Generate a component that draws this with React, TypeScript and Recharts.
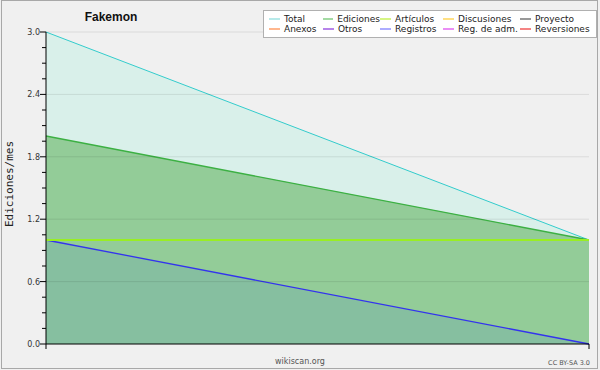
import { Area, AreaChart, ReferenceLine, XAxis, YAxis } from "recharts";

const months = ["2023-01", "2023-02"];
const total = [3, 1];
const ediciones = [2, 1];
const articulos = [1, 1];
const registros = [1, 0];

const yTicks = [0, 0.15, 0.3, 0.45, 0.6, 0.75, 0.9, 1.05, 1.2, 1.35, 1.5, 1.65, 1.8, 1.95, 2.1, 2.25, 2.4, 2.55, 2.7, 2.85, 3.0];
const yLabels = [0, 0.6, 1.2, 1.8, 2.4, 3.0];

const legendItems = [
  { name: "Total", color: "#88dddd" },
  { name: "Ediciones", color: "#66c266" },
  { name: "Artículos", color: "#bbee33" },
  { name: "Discusiones", color: "#ffcc33" },
  { name: "Proyecto", color: "#555555" },
  { name: "Anexos", color: "#ff8844" },
  { name: "Otros", color: "#8833dd" },
  { name: "Registros", color: "#7777ff" },
  { name: "Reg. de adm.", color: "#dd44ee" },
  { name: "Reversiones", color: "#ee3333" }
];
const legendCols = [54, 57, 63, 77, 73];

const rows = months.map((month, i) => ({
  month,
  total: total[i],
  ediciones: ediciones[i],
  articulos: articulos[i],
  registros: registros[i]
}));

function YTick({ x, y, payload }: any) {
  const v = payload.value;
  const major = yLabels.some((l) => Math.abs(l - v) < 1e-6);
  return (
    <g>
      <line x1={x - (major ? 6 : 4)} x2={x} y1={y} y2={y} stroke="#000" />
      {major && (
        <text x={x - 6} y={y + 3} textAnchor="end" fontSize={8} fill="#333" fontFamily="DejaVu Sans">
          {v.toFixed(1)}
        </text>
      )}
    </g>
  );
}

export default function App() {
  return (
    <div style={{ position: "absolute", left: 0, top: 0, width: 600, height: 370, background: "#f0f0f0" }}>
      <AreaChart width={600} height={370} data={rows} margin={{ top: 32, right: 11, bottom: 21, left: 0 }}>
        <XAxis dataKey="month" height={5} tick={() => <g />} tickSize={5} tickLine={{ stroke: "#000" }} axisLine={{ stroke: "#000" }} />
        <YAxis width={46} domain={[0, 3]} ticks={yTicks} interval={0} tick={<YTick />} tickLine={false} tickSize={0} tickMargin={0} axisLine={{ stroke: "#000" }} />
        <Area dataKey="total" stroke="#33cccc" strokeWidth={1} fill="#d9f0ea" fillOpacity={1} isAnimationActive={false} />
        <Area dataKey="ediciones" stroke="#3cb043" strokeWidth={1.3} fill="#93cc98" fillOpacity={1} isAnimationActive={false} />
        <Area dataKey="registros" stroke="#3333ee" strokeWidth={1.3} fill="#86bfa0" fillOpacity={1} isAnimationActive={false} />
        <Area dataKey="articulos" stroke="#99ee22" strokeWidth={1.8} fill="none" isAnimationActive={false} />
        {yLabels.slice(1).map((v) => (
          <ReferenceLine key={v} y={v} stroke="#000" strokeOpacity={0.09} />
        ))}
      </AreaChart>
      <svg width={600} height={370} style={{ position: "absolute", left: 0, top: 0, pointerEvents: "none" }}>
        <rect x={1.5} y={0.5} width={596} height={368} fill="none" stroke="#a8a8a8" />
        <text x={111} y={21} textAnchor="middle" fontSize={12} fontWeight="bold" fontFamily="Liberation Sans" fill="#111">
          Fakemon
        </text>
        <text transform="translate(13,184) rotate(-90)" textAnchor="middle" fontSize={11} fontFamily="DejaVu Sans Mono" fill="#222">
          Ediciones/mes
        </text>
        <text x={300} y={364} textAnchor="middle" fontSize={8} fontFamily="DejaVu Sans" fill="#555">
          wikiscan.org
        </text>
        <text x={590} y={365} textAnchor="end" fontSize={6.5} fontFamily="DejaVu Sans" fill="#555">
          CC BY-SA 3.0
        </text>
      </svg>
      <div
        style={{
          position: "absolute",
          left: 263,
          top: 10,
          width: 327,
          height: 26,
          padding: "0 0 0 5px",
          background: "#fff",
          border: "1px solid #b0b0b0",
          display: "grid",
          gridTemplateColumns: legendCols.map((c) => `${c}px`).join(" "),
          gridAutoRows: "10px",
          alignContent: "center",
          fontFamily: "DejaVu Sans",
          fontSize: 9,
          color: "#222",
          lineHeight: "10px"
        }}
      >
        {legendItems.map((item) => (
          <div key={item.name} style={{ display: "flex", alignItems: "center", whiteSpace: "nowrap" }}>
            <svg width={11} height={4} style={{ marginRight: 4 }}>
              <line x1={0} x2={11} y1={2} y2={2} stroke={item.color} strokeWidth={1.2} />
            </svg>
            {item.name}
          </div>
        ))}
      </div>
    </div>
  );
}
